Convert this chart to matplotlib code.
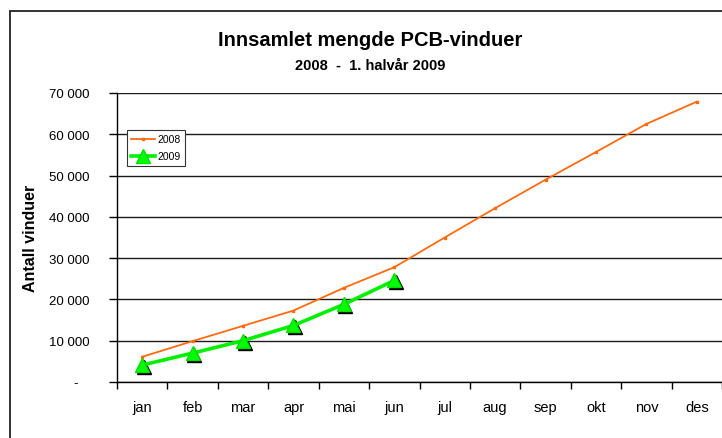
import matplotlib
matplotlib.use("Agg")
import matplotlib.pyplot as plt
from matplotlib.patches import Rectangle
from matplotlib.transforms import offset_copy
from matplotlib.ticker import FuncFormatter, FixedLocator
import numpy as np

months = ["jan", "feb", "mar", "apr", "mai", "jun", "jul", "aug", "sep", "okt", "nov", "des"]
values_2008 = [6100, 9900, 13600, 17300, 22800, 27800, 35000, 42100, 49000, 55700, 62500, 67900]
values_2009 = [4100, 7000, 10000, 13700, 18800, 24600]
yticks = [0, 10000, 20000, 30000, 40000, 50000, 60000, 70000]

plt.rcParams['font.family'] = ['Liberation Sans', 'DejaVu Sans']

W, H = 722, 439
fig = plt.figure(figsize=(W / 100, H / 100), dpi=100)

# outer chart border (left and top visible)
fig.patches.append(Rectangle((9.5 / W, -0.05), 1.2, 1.05 - 11.5 / H,
                             transform=fig.transFigure, fill=False,
                             edgecolor='#222222', linewidth=1.3))

ax = fig.add_axes([117 / W, 1 - 383 / H, 605 / W, (383 - 94) / H])

x = np.arange(len(months))
x9 = np.arange(len(values_2009))

ax.plot(x, values_2008, color='#FF6A0F', linewidth=1.3, marker='s', markersize=2,
        label='2008', zorder=3)

shadow = offset_copy(ax.transData, fig=fig, x=1.5, y=-1.8, units='dots')
ax.plot(x9, values_2009, linestyle='none', marker='^', markersize=9.5,
        color='black', transform=shadow, zorder=4)
ax.plot(x9, values_2009, color='#00F000', linewidth=2.6, marker='^', markersize=9.5,
        markerfacecolor='#00FF00', markeredgecolor='#00DD00', label='2009', zorder=5)

ax.set_xlim(-0.5, len(months) - 0.5)
ax.set_ylim(0, 70000)
ax.set_yticks(yticks)

def fmt(v, pos):
    if v == 0:
        return '-   '
    return f"{int(v):,}".replace(',', ' ')

ax.yaxis.set_major_formatter(FuncFormatter(fmt))
ax.set_xticks(x)
ax.set_xticklabels(months)
ax.xaxis.set_minor_locator(FixedLocator(np.arange(-0.5, len(months), 1.0)))

ax.tick_params(axis='x', which='major', length=0, pad=13, labelsize=10.5, colors='black')
ax.tick_params(axis='x', which='minor', length=5, width=1, direction='out', color='black')
ax.tick_params(axis='y', which='major', length=6, width=1, direction='out', pad=14,
               labelsize=9.5, colors='black')

ax.grid(axis='y', color='#1a1a1a', linewidth=1.0)
ax.set_axisbelow(True)
for s in ['top', 'right']:
    ax.spines[s].set_visible(False)
for s in ['left', 'bottom']:
    ax.spines[s].set_color('black')
    ax.spines[s].set_linewidth(1.0)

ax.set_ylabel('Antall vinduer', fontsize=11.5, fontweight='bold')
ax.yaxis.set_label_coords((38 - 117) / 605, 0.5)

fig.text(370 / W, 1 - 40 / H, 'Innsamlet mengde PCB-vinduer', ha='center', va='center',
         fontsize=14.5, fontweight='bold')
fig.text(370 / W, 1 - 66 / H, '2008  -  1. halvår 2009', ha='center', va='center',
         fontsize=10.5, fontweight='bold')

leg = ax.legend(loc='upper left', bbox_to_anchor=((127 - 117) / 605, (383 - 131) / 289),
                fontsize=7.5, frameon=True, fancybox=False, edgecolor='#333333',
                framealpha=1, borderpad=0.4, handlelength=2.3, handletextpad=0.2,
                labelspacing=0.7, borderaxespad=0)
leg.get_frame().set_linewidth(0.8)

fig.savefig('out.png', dpi=100)
